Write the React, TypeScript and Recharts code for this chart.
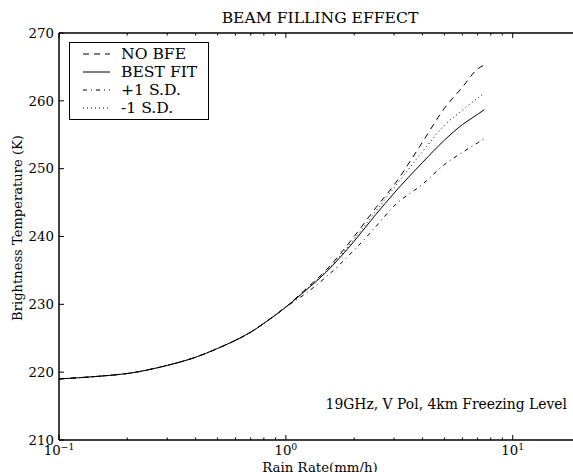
import { LineChart, Line, XAxis, YAxis, Legend, Customized } from "recharts";

// rain rate (mm/h) and brightness temperature (K)
const rainRate = [0.1, 0.15, 0.2, 0.3, 0.4, 0.5, 0.6, 0.7, 0.8, 1.0, 1.2, 1.5, 2, 2.5, 3, 4, 5, 6, 7, 7.5];
const noBfe = [219.0, 219.4, 219.8, 221.0, 222.2, 223.5, 224.7, 225.9, 227.2, 229.6, 232.0, 235.0, 240.0, 244.3, 247.6, 253.9, 258.9, 262.0, 264.7, 265.3];
const bestFit = [219.0, 219.4, 219.8, 221.0, 222.2, 223.5, 224.7, 225.9, 227.2, 229.6, 231.8, 234.7, 239.3, 243.3, 246.4, 250.9, 254.2, 256.5, 258.0, 258.7];
const plusSd = [219.0, 219.4, 219.8, 221.0, 222.2, 223.5, 224.7, 225.9, 227.2, 229.6, 231.4, 234.0, 238.0, 241.5, 244.5, 247.7, 250.6, 252.4, 253.8, 254.4];
const minusSd = [219.0, 219.4, 219.8, 221.0, 222.2, 223.5, 224.7, 225.9, 227.2, 229.6, 231.9, 234.8, 239.6, 243.8, 247.2, 252.5, 256.4, 258.6, 260.4, 261.1];

const xTicks = [0.1, 0.2, 0.3, 0.4, 0.5, 0.6, 0.7, 0.8, 0.9, 1, 2, 3, 4, 5, 6, 7, 8, 9, 10, 20];
const xMajor = [0.1, 1, 10];
const xExponent = ["\u22121", "0", "1"];
const yTicks = [210, 220, 230, 240, 250, 260, 270];

const series = [
  { key: "noBfe", name: "NO BFE", dash: "6 5" },
  { key: "bestFit", name: "BEST FIT", dash: undefined },
  { key: "plusSd", name: "+1 S.D.", dash: "4 4 1 4" },
  { key: "minusSd", name: "-1 S.D.", dash: "1 3" },
];

const data = rainRate.map((r, i) => ({
  rain: r,
  noBfe: noBfe[i],
  bestFit: bestFit[i],
  plusSd: plusSd[i],
  minusSd: minusSd[i],
}));

const FONT = "'DejaVu Serif', 'Liberation Serif', serif";

const BottomTick = (props: any) => {
  const { x, y, payload } = props;
  const idx = xMajor.indexOf(payload.value);
  const major = idx >= 0;
  return (
    <g>
      <line x1={x} y1={y} x2={x} y2={y - (major ? 5 : 2.5)} stroke="#000" />
      {major && (
        <text x={x} y={y + 15} textAnchor="middle" style={{ fontFamily: FONT, fontSize: 13.3 }} fill="#000">
          10
          <tspan dy={-5} style={{ fontSize: 9.3 }}>
            {xExponent[idx]}
          </tspan>
        </text>
      )}
    </g>
  );
};

const TopTick = (props: any) => {
  const { x, y, payload } = props;
  const major = xMajor.includes(payload.value);
  return <line x1={x} y1={y} x2={x} y2={y + (major ? 5 : 2.5)} stroke="#000" />;
};

const LeftTick = (props: any) => {
  const { x, y, payload } = props;
  return (
    <g>
      <line x1={x} y1={y} x2={x + 5} y2={y} stroke="#000" />
      <text x={x - 5} y={y + 4.8} textAnchor="end" style={{ fontFamily: FONT, fontSize: 13.3 }} fill="#000">
        {payload.value}
      </text>
    </g>
  );
};

const LegendBox = () => (
  <div
    style={{
      border: "1px solid #000",
      background: "#fff",
      padding: "2px 11px 2px 13px",
      fontFamily: FONT,
      fontSize: 15.6,
      lineHeight: "18px",
    }}
  >
    {series.map((s) => (
      <div key={s.key} style={{ display: "flex", alignItems: "center", whiteSpace: "nowrap", height: 18 }}>
        <svg width={27} height={10} style={{ marginRight: 11 }}>
          <line x1={0} y1={5} x2={27} y2={5} stroke="#000" strokeWidth={1} strokeDasharray={s.dash} />
        </svg>
        <span>{s.name}</span>
      </div>
    ))}
  </div>
);

const Texts = () => (
  <g fill="#000" style={{ fontFamily: FONT }}>
    <text x={320} y={23} textAnchor="middle" style={{ fontFamily: FONT, fontSize: 15.6 }}>
      BEAM FILLING EFFECT
    </text>
    <text x={320} y={472} textAnchor="middle" style={{ fontFamily: FONT, fontSize: 13.3 }}>
      Rain Rate(mm/h)
    </text>
    <text x={22} y={228} textAnchor="middle" transform="rotate(-90 22 228)" style={{ fontFamily: FONT, fontSize: 13.1 }}>
      Brightness Temperature (K)
    </text>
    <text x={567} y={408.5} textAnchor="end" style={{ fontFamily: FONT, fontSize: 13.9 }}>
      19GHz, V Pol, 4km Freezing Level
    </text>
  </g>
);

export default function App() {
  return (
    <div
      style={{
        position: "absolute",
        left: 0,
        top: 0,
        width: 573,
        height: 472,
        overflow: "hidden",
        background: "#fff",
      }}
    >
      <LineChart width={600} height={472} data={data} margin={{ top: 3, right: 19, bottom: 0, left: 0 }}>
        <XAxis
          dataKey="rain"
          type="number"
          scale="log"
          domain={[0.1, 20]}
          allowDataOverflow
          ticks={xTicks}
          interval={0}
          height={32}
          tickSize={0}
          tickMargin={0}
          tickLine={false}
          axisLine={{ stroke: "#000", strokeWidth: 1.5 }}
          tick={<BottomTick />}
        />
        <XAxis
          xAxisId="top"
          orientation="top"
          dataKey="rain"
          type="number"
          scale="log"
          domain={[0.1, 20]}
          allowDataOverflow
          ticks={xTicks}
          interval={0}
          height={30}
          tickSize={0}
          tickMargin={0}
          tickLine={false}
          axisLine={{ stroke: "#000", strokeWidth: 1.5 }}
          tick={<TopTick />}
        />
        <YAxis
          type="number"
          domain={[210, 270]}
          ticks={yTicks}
          interval={0}
          width={59}
          tickSize={0}
          tickMargin={0}
          tickLine={false}
          axisLine={{ stroke: "#000", strokeWidth: 1.5 }}
          tick={<LeftTick />}
        />
        {series.map((s) => (
          <Line
            key={s.key}
            dataKey={s.key}
            name={s.name}
            type="monotone"
            stroke="#000"
            strokeWidth={1}
            strokeDasharray={s.dash}
            dot={false}
            isAnimationActive={false}
          />
        ))}
        <Legend
          layout="vertical"
          align="center"
          verticalAlign="middle"
          content={<LegendBox />}
          wrapperStyle={{ left: 69, top: 42, width: "auto", height: "auto" }}
        />
        <Customized component={<Texts />} />
      </LineChart>
    </div>
  );
}
